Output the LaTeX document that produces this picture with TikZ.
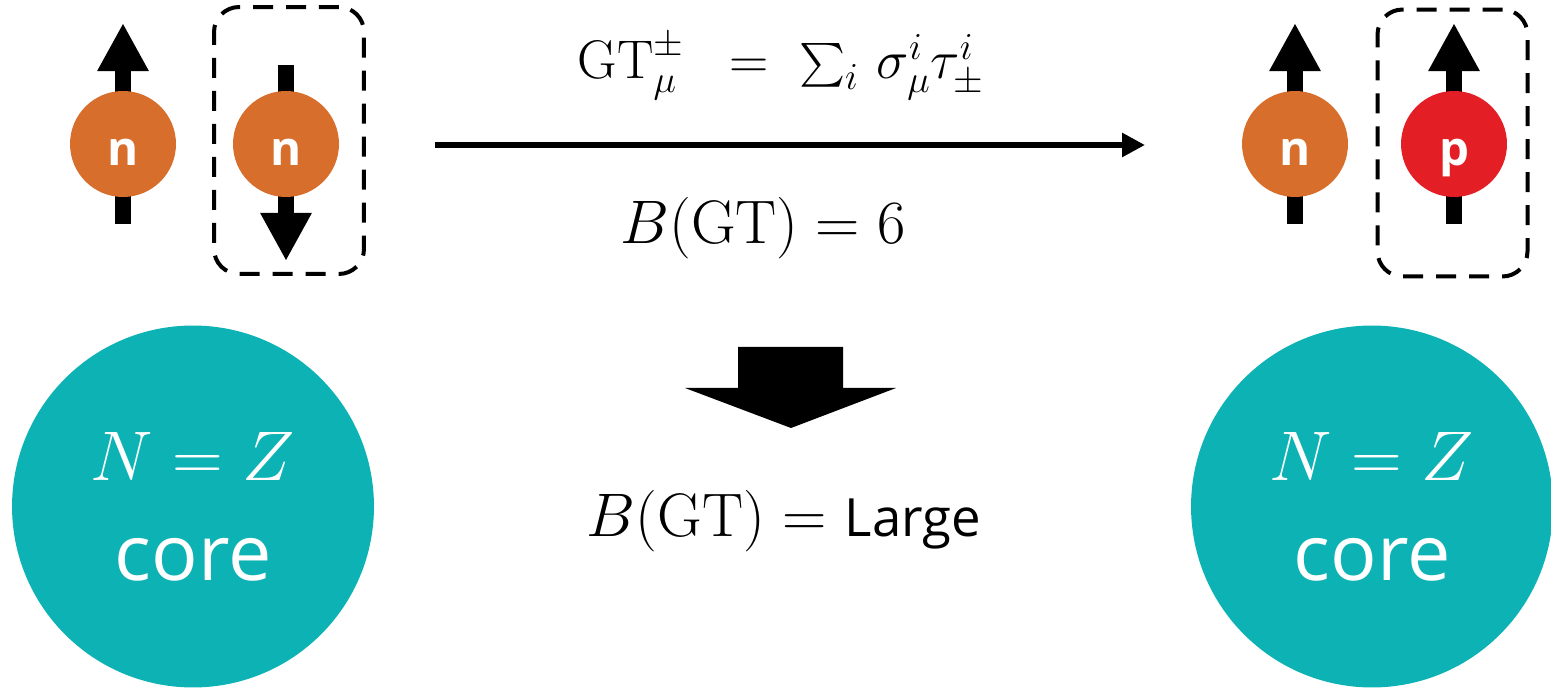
\RequirePackage{fix-cm}
\documentclass[tikz,border=0pt]{standalone}
\usepackage{amsmath}
\usepackage{fontspec}
\newfontfamily\labelfont{Open Sans}
\usepackage{xcolor}
\definecolor{CoreTeal}{RGB}{13,179,180}
\definecolor{NeutronOrange}{RGB}{216,110,44}
\definecolor{ProtonRed}{RGB}{227,30,36}
\usetikzlibrary{arrows.meta, positioning, backgrounds, calc}
\tikzset{
  % Nucleon balls
  nucleon/.style={
    circle, fill=NeutronOrange, minimum size=2.12cm, inner sep=0pt,
    text=white, font=\labelfont\bfseries\fontsize{27}{30}\selectfont,
    text height=0.88cm, text depth=0pt
  },
  nucleon red/.style={nucleon, fill=ProtonRed},
  % N=Z core
  coreball/.style={
    circle, fill=CoreTeal, minimum size=7.24cm, inner sep=0pt,
    text=white, align=center, font=\fontsize{44}{57}\selectfont
  },
  % Spin arrows
  spin/.style={line width=0.32cm, -{Triangle[length=0.96cm,width=0.96cm]}},
  % Dashed pair box
  pairbox/.style={
    rectangle, draw, line width=0.08cm, dash pattern=on 0.4cm off 0.26cm,
    rounded corners=0.5cm, minimum width=3.0cm, minimum height=5.34cm
  },
  % Arrows
  arr/.style={line width=0.12cm, -{Triangle[length=0.46cm,width=0.46cm]}},
  % Equation labels
  eqlabel/.style={anchor=base, inner sep=0pt, font=\fontsize{35}{40}\selectfont},
}

\begin{document}
\begin{tikzpicture}[x=0.02cm, y=-0.02cm]
  \useasboundingbox (0,0) rectangle (1551,688);

  %% Initial pair
  \node[nucleon] (n1) at (123,144) {n};
  \node[nucleon] (n2) at (286,144) {n};
  \node[pairbox] (box1) at (289,140.5) {};

  %% Final pair
  \node[nucleon] (n3) at (1295,144) {n};
  \node[nucleon red] (p1) at (1454,144) {p};
  \node[pairbox] (box2) at (1452.5,143) {};

  %% Spins
  \begin{scope}[on background layer]
    \draw[spin] ([yshift=-1.6cm]n1.center) -- ([yshift=2.42cm]n1.center);
    \draw[spin] ([yshift=1.58cm]n2.center) -- ([yshift=-2.34cm]n2.center);
    \draw[spin] ([yshift=-1.6cm]n3.center) -- ([yshift=2.42cm]n3.center);
    \draw[spin] ([yshift=-1.6cm]p1.center) -- ([yshift=2.42cm]p1.center);
  \end{scope}

  %% GT transition
  \coordinate (gtstart) at (435,145);
  \coordinate (gtend) at (1145,145);
  \draw[arr] (gtstart) -- (gtend);
  \node[eqlabel, font=\fontsize{31}{34}\selectfont] (gtop) at (781,79)
    {$\mathrm{GT}_{\mu}^{\pm}\;\;=\;\sum_i\,\sigma_{\mu}^{i}\tau_{\pm}^{i}$};
  \node[eqlabel] (bgt1) at (763,244) {$B(\mathrm{GT}) = 6$};

  %% Block arrow
  \fill (738,347) -- (843,347) -- (843,388) -- (896,388) -- (791,428)
    -- (685,388) -- (738,388) -- cycle;
  \node[eqlabel] (bgt2) at (784,537)
    {$B(\mathrm{GT}) = $ {\labelfont\fontsize{30}{34}\selectfont Large}};

  %% Cores
  \node[coreball] (core1) at (193,506.5)
    {{\fontsize{40}{57}\selectfont$N=Z$}\\{\labelfont core}};
  \node[coreball] (core2) at (1372,506.5)
    {{\fontsize{40}{57}\selectfont$N=Z$}\\{\labelfont core}};

\end{tikzpicture}
\end{document}
